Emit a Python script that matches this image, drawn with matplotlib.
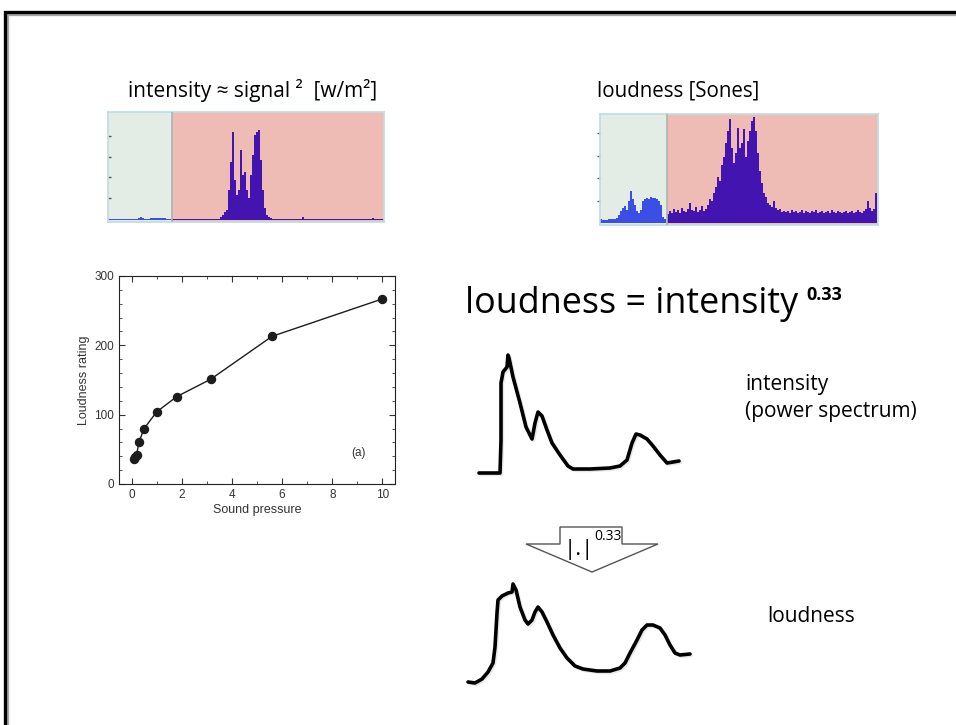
import numpy as np
import matplotlib
matplotlib.use("Agg")
import matplotlib.pyplot as plt
import matplotlib.patheffects as pe
from matplotlib.patches import Polygon
from matplotlib.ticker import MultipleLocator

# --- data ---
# loudness rating vs sound pressure (scanned plot)
sound_pressure = [0.1, 0.15, 0.2, 0.3, 0.5, 1.0, 1.8, 3.15, 5.6, 10.0]
loudness_rating = [36, 39, 42, 61, 80, 104, 126, 151, 213, 267]

# top-left spectrum (intensity), bar heights in px, 2 px per bin
int_green = [1, 1, 1, 1, 1, 1, 1, 1, 1, 1, 1, 1, 1, 1, 1, 2,
             3, 2, 1, 1, 1, 2, 2, 2, 2, 2, 2, 2, 2, 1, 1, 1]
int_pink = [1, 1, 1, 1, 1, 1, 1, 1, 1, 1, 1, 1, 1, 1, 1, 1, 1, 1, 1, 1, 1, 1, 1, 1,
            3, 5, 8, 10, 30, 58, 88, 40, 25, 30, 70, 45, 48, 30, 22, 45, 65, 85, 88,
            90, 60, 30, 12, 5, 3, 2,
            1, 1, 1, 1, 1, 1, 1, 1, 1, 1, 1, 1, 1, 1, 1, 3, 1, 1, 1, 1, 1, 1, 1, 1,
            1, 1, 1, 1, 1, 1, 1, 1, 1, 1, 1, 1, 1, 1, 1, 1, 1, 1, 1, 1, 1, 1, 1, 1,
            1, 1, 2, 1, 1, 1, 1, 1]

# top-right spectrum (loudness)
loud_green = [4, 3, 3, 3, 4, 4, 4, 4, 5, 8, 12, 15, 17, 13, 22, 32, 24,
              18, 12, 10, 13, 22, 24, 25, 24, 26, 25, 25, 24, 22, 18, 6, 4]
loud_pink = [9, 12, 10, 14, 11, 13, 10, 15, 12, 11, 14, 20, 13, 12, 16, 11, 13,
             17, 12, 14, 18, 24, 22, 30, 36, 46, 42, 58, 66, 80, 92, 104, 75, 60,
             70, 95, 75, 80, 94, 66, 82, 92, 102, 106, 92, 70, 52, 40, 30, 26, 20,
             18, 16, 22, 15, 13, 14, 11, 12,
             11, 12, 10, 13, 11, 12, 10, 11, 13, 10, 12, 11, 10, 12, 11, 13, 10,
             11, 12, 10, 11, 12, 10, 13, 11, 10, 12, 11, 10, 11, 12, 10, 11, 12,
             10, 11, 13, 11, 10, 12,
             14, 22, 15, 12, 14, 30]

# sketched curves: frequency vs level
intensity_freq = [4, 15, 25, 26, 26, 28, 32, 33, 34, 38, 45, 51, 57, 60, 63, 67, 72,
                  77, 85, 93, 98, 115, 135, 145, 152, 157, 161, 165, 172, 178, 185,
                  192, 198, 204]
intensity_level = [5, 5, 5, 38, 95, 106, 111, 123, 120, 101, 75, 51, 39, 55, 66, 62,
                   48, 35, 23, 12, 9, 9, 10, 12, 18, 35, 44, 43, 39, 32, 23, 15, 16, 17]

loud_freq = [3, 10, 17, 23, 28, 30, 32, 33, 37, 43, 47, 48, 51, 55, 60, 63, 67, 70,
             73, 77, 82, 88, 95, 102, 110, 118, 132, 145, 155, 160, 165, 172, 177,
             182, 188, 195, 200, 205, 210, 215, 225]
loud_level = [6, 5, 9, 16, 25, 41, 75, 88, 92, 95, 96, 104, 98, 81, 68, 64, 68, 76,
              81, 76, 66, 53, 40, 30, 22, 19, 17, 17, 20, 25, 35, 48, 58, 63, 63, 60,
              53, 43, 35, 33, 34]

W, H = 956, 725
PINK = "#eebcb4"
GREEN = "#e3ece5"
PURPLE = "#4414b1"
BLUE = "#3b4ee6"
TXT = ["Open Sans", "DejaVu Sans"]

fig = plt.figure(figsize=(W / 100, H / 100), dpi=100)


def box(l, t, r, b):
    return [l / W, 1 - b / H, (r - l) / W, (b - t) / H]


def ftext(x, y, s, **kw):
    kw.setdefault("family", TXT)
    kw.setdefault("va", "baseline")
    fig.text(x / W, 1 - y / H, s, **kw)


def spectrum(rect, green_w, green_h, pink_h, ytop, yticks, tickdir):
    ax = fig.add_axes(box(*rect))
    total = rect[2] - rect[0]
    ax.set_xlim(0, total)
    ax.set_ylim(-2, ytop)
    ax.axvspan(0, green_w, color=GREEN, lw=0, zorder=0)
    ax.axvspan(green_w, total, color=PINK, lw=0, zorder=0)
    ax.bar(np.arange(len(green_h)) * 2, green_h, width=2, align="edge",
           color=BLUE, lw=0, zorder=2)
    ax.bar(green_w + np.arange(len(pink_h)) * 2, pink_h, width=2, align="edge",
           color=PURPLE, lw=0, zorder=2)
    ax.axvline(green_w, color="#a9b6b0", lw=1.2, zorder=3)
    for s in ax.spines.values():
        s.set_color("#bcdde1")
        s.set_linewidth(1.2)
    ax.set_xticks([])
    ax.set_yticks(yticks)
    ax.tick_params(axis="y", length=2, width=1, color="#555555", direction=tickdir,
                   labelleft=False)
    return ax


spectrum((108, 112, 384, 222), 64, int_green, int_pink, 108, [22, 43, 63, 84], "in")
spectrum((600, 114, 878, 225), 67, loud_green, loud_pink, 109, [22, 45, 67, 90], "out")

ftext(128, 97, "intensity \u2248 signal \u00b2  [w/m\u00b2]", fontsize=15)
ftext(597, 96, "loudness [Sones]", fontsize=14.8)

# scanned loudness plot
ax = fig.add_axes(box(119, 276, 395, 484))
ax.plot(sound_pressure, loudness_rating, "-o", color="#1c1c1c", lw=1, ms=5.8)
ax.set_xlim(-0.5, 10.5)
ax.set_ylim(0, 300)
ax.set_xticks(range(0, 11, 2))
ax.set_yticks([0, 100, 200, 300])
ax.xaxis.set_minor_locator(MultipleLocator(1))
ax.yaxis.set_minor_locator(MultipleLocator(20))
ax.tick_params(which="both", direction="in", top=True, right=True, colors="#333333",
               labelsize=8.5)
ax.tick_params(which="major", length=4)
ax.tick_params(which="minor", length=2)
for s in ax.spines.values():
    s.set_color("#222222")
for lab in ax.get_xticklabels() + ax.get_yticklabels():
    lab.set_family("Liberation Sans")
ax.set_xlabel("Sound pressure", fontsize=9, family="Liberation Sans", color="#333333",
              labelpad=2)
ax.set_ylabel("Loudness rating", fontsize=9, family="Liberation Sans", color="#333333",
              labelpad=3)
ax.text(9.05, 45, "(a)", fontsize=8.5, family="Liberation Sans", color="#333333",
        ha="center", va="center")

# formula
ftext(465, 313, "loudness = intensity", fontsize=25.8)
ftext(806, 300, "0.33", fontsize=13, weight="bold")

shadow = [pe.SimpleLineShadow(offset=(1, -1), alpha=0.12, shadow_color="#444444"),
          pe.Normal()]

ci = fig.add_axes(box(475, 350, 685, 478))
ci.plot(intensity_freq, intensity_level, color="black", lw=2.6,
        solid_joinstyle="round", solid_capstyle="round", path_effects=shadow)
ci.set_xlim(0, 210)
ci.set_ylim(0, 128)
ci.axis("off")
ftext(745, 390, "intensity", fontsize=15)
ftext(745, 417, "(power spectrum)", fontsize=15)

cl = fig.add_axes(box(465, 580, 695, 688))
cl.plot(loud_freq, loud_level, color="black", lw=2.6,
        solid_joinstyle="round", solid_capstyle="round", path_effects=shadow)
cl.set_xlim(0, 230)
cl.set_ylim(0, 108)
cl.axis("off")
ftext(767, 622, "loudness", fontsize=15)

# overlay: slide frame and block arrow
ov = fig.add_axes([0, 0, 1, 1], zorder=-1)
ov.set_xlim(0, W)
ov.set_ylim(H, 0)
ov.axis("off")
ov.plot([5, 5, W + 5], [H + 5, 12, 12], color="black", lw=2.4, clip_on=False,
        solid_joinstyle="miter",
        path_effects=[pe.SimpleLineShadow(offset=(1.5, -1.5), alpha=0.35), pe.Normal()])
arrow = Polygon([(560, 527), (560, 544), (526, 544), (592, 572), (658, 544),
                 (622, 544), (622, 527)], closed=True, facecolor="white",
                edgecolor="#555555", lw=1)
ov.add_patch(arrow)
ftext(564, 555, "|.|", fontsize=16)
ftext(594, 540, "0.33", fontsize=10)

fig.savefig("out.png", dpi=100)
